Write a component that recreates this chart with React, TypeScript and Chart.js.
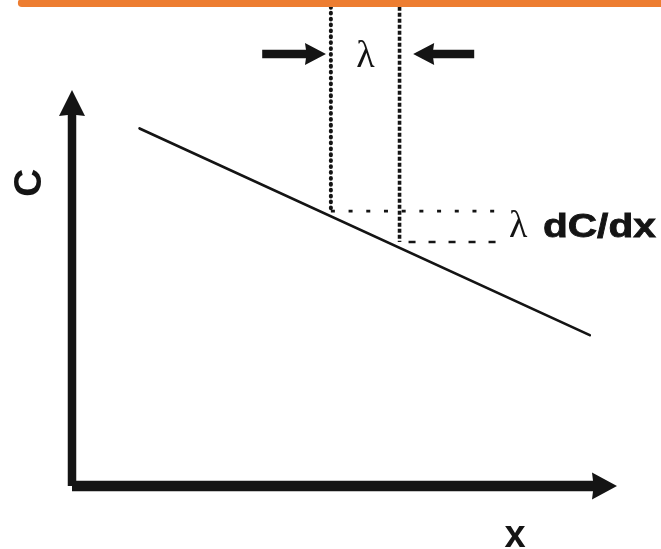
import React, { useEffect, useRef } from "react";
import { Chart, registerables } from "chart.js";

Chart.register(...registerables);

// ---- Data (arbitrary units: x along the abscissa, C along the ordinate) ----
const xRange = [0, 100];
const cRange = [0, 100];

// Concentration profile C(x): a straight falling line
const profileX = [12.4, 95.0];
const profileC = [90.3, 38.1];

// The two λ marker lines (x positions), their top and where they stop
const markerX = [47.5, 60.1];
const markerTopC = 121;
const markerBottomC = [69.4, 61.6];
const levelEndX = 78.0;

// Orange rule along the top
const orangeRuleX = [-9.2, 110];
const orangeRuleC = 122;

// Arrows pointing at the λ gap
const arrowC = 109.1;
const leftArrowX = [34.9, 46.6];
const rightArrowX = [73.8, 62.6];

// Labels
const xLabel = "x";
const cLabel = "C";
const lambdaLabel = "λ";
const gradientLabel = "dC/dx";

// label anchors (data units)
const xLabelAt = [81.3, -15.4];
const cLabelAt = [-5.6, 76.6];
const lambdaTopAt = [53.85, 105.9];
const lambdaSideAt = [80.2, 62.95];
const gradientAt = [86.4, 62.95];

const INK = "#141414";
const ORANGE = "#ED7D31";

function drawArrow(
  ctx: CanvasRenderingContext2D,
  x0: number, y0: number, x1: number, y1: number,
  shaft: number, headLen: number, headW: number
) {
  const dx = x1 - x0, dy = y1 - y0;
  const len = Math.hypot(dx, dy);
  const ux = dx / len, uy = dy / len;
  const nx = -uy, ny = ux;
  const bx = x1 - ux * headLen, by = y1 - uy * headLen;
  ctx.save();
  ctx.fillStyle = INK;
  ctx.beginPath();
  ctx.moveTo(x0 + nx * shaft / 2, y0 + ny * shaft / 2);
  ctx.lineTo(bx + nx * shaft / 2 + ux, by + ny * shaft / 2 + uy);
  ctx.lineTo(bx + nx * headW / 2, by + ny * headW / 2);
  ctx.lineTo(x1, y1);
  ctx.lineTo(bx - nx * headW / 2, by - ny * headW / 2);
  ctx.lineTo(bx - nx * shaft / 2 + ux, by - ny * shaft / 2 + uy);
  ctx.lineTo(x0 - nx * shaft / 2, y0 - ny * shaft / 2);
  ctx.closePath();
  ctx.fill();
  ctx.restore();
}

const diagramPlugin = {
  id: "diagramPlugin",
  afterDatasetsDraw(chart: any) {
    const ctx: CanvasRenderingContext2D = chart.ctx;
    const sx = chart.scales.x;
    const sy = chart.scales.y;
    const px = (v: number) => sx.getPixelForValue(v);
    const py = (v: number) => sy.getPixelForValue(v);

    // axes
    drawArrow(ctx, px(xRange[0]), py(cRange[0]), px(xRange[0]), py(cRange[1]), 8.5, 26, 26);
    drawArrow(ctx, px(xRange[0]), py(cRange[0]), px(xRange[1]), py(cRange[0]), 10.5, 25, 27);

    // λ arrows
    drawArrow(ctx, px(leftArrowX[0]), py(arrowC), px(leftArrowX[1]), py(arrowC), 8.5, 21, 22);
    drawArrow(ctx, px(rightArrowX[0]), py(arrowC), px(rightArrowX[1]), py(arrowC), 8.5, 21, 22);

    ctx.save();
    ctx.fillStyle = INK;

    // x label
    ctx.font = 'bold 38px "Liberation Sans", Arial, sans-serif';
    ctx.textAlign = "center";
    ctx.textBaseline = "alphabetic";
    ctx.fillText(xLabel, px(xLabelAt[0]), py(xLabelAt[1]));

    // C label (rotated)
    ctx.save();
    ctx.translate(px(cLabelAt[0]), py(cLabelAt[1]));
    ctx.rotate(-Math.PI / 2);
    ctx.font = 'bold 39px "Liberation Sans", Arial, sans-serif';
    ctx.textAlign = "center";
    ctx.textBaseline = "alphabetic";
    ctx.fillText(cLabel, 0, 0);
    ctx.restore();

    // λ between markers
    ctx.font = '38px "Liberation Serif", "DejaVu Serif", serif';
    ctx.textAlign = "center";
    ctx.textBaseline = "alphabetic";
    ctx.fillText(lambdaLabel, px(lambdaTopAt[0]), py(lambdaTopAt[1]));

    // λ dC/dx
    ctx.textAlign = "left";
    ctx.fillText(lambdaLabel, px(lambdaSideAt[0]), py(lambdaSideAt[1]));

    ctx.font = 'bold 34px "Liberation Sans", Arial, sans-serif';
    const w = ctx.measureText(gradientLabel).width;
    const stretch = 113 / w;
    ctx.save();
    ctx.translate(px(gradientAt[0]), py(gradientAt[1]));
    ctx.scale(stretch, 1);
    ctx.lineWidth = 0.8;
    ctx.strokeStyle = INK;
    ctx.fillText(gradientLabel, 0, 0);
    ctx.strokeText(gradientLabel, 0, 0);
    ctx.restore();

    ctx.restore();
  },
};

export default function App() {
  const ref = useRef<HTMLCanvasElement | null>(null);

  useEffect(() => {
    if (!ref.current) return;
    const line = (
      pts: { x: number; y: number }[],
      color: string,
      width: number,
      dash: number[] = [],
      cap: CanvasLineCap = "butt",
      dashOffset = 0
    ) => ({
      data: pts,
      showLine: true,
      borderColor: color,
      backgroundColor: color,
      borderWidth: width,
      borderDash: dash,
      borderDashOffset: dashOffset,
      borderCapStyle: cap,
      pointRadius: 0,
      pointHoverRadius: 0,
      tension: 0,
      fill: false,
      clip: false as any,
    });

    const chart = new Chart(ref.current, {
      type: "scatter",
      data: {
        datasets: [
          line(
            [
              { x: orangeRuleX[0], y: orangeRuleC },
              { x: orangeRuleX[1], y: orangeRuleC },
            ],
            ORANGE, 8, [], "round"
          ),
          line(
            [
              { x: profileX[0], y: profileC[0] },
              { x: profileX[1], y: profileC[1] },
            ],
            INK, 2.7, [], "round"
          ),
          line(
            [
              { x: markerX[0], y: markerTopC },
              { x: markerX[0], y: markerBottomC[0] },
            ],
            INK, 4, [0.8, 5.1], "round"
          ),
          line(
            [
              { x: markerX[1], y: markerTopC },
              { x: markerX[1], y: markerBottomC[1] },
            ],
            INK, 3.6, [3.8, 2.2], "butt"
          ),
          line(
            [
              { x: markerX[0], y: markerBottomC[0] },
              { x: levelEndX, y: markerBottomC[0] },
            ],
            INK, 2.8, [4, 13.7], "butt"
          ),
          line(
            [
              { x: markerX[1], y: markerBottomC[1] },
              { x: levelEndX, y: markerBottomC[1] },
            ],
            INK, 2.6, [7, 13], "butt", 11
          ),
        ],
      },
      options: {
        animation: false,
        responsive: false,
        maintainAspectRatio: false,
        events: [],
        layout: { padding: { left: 72, right: 44, top: 90, bottom: 63 } },
        scales: {
          x: { type: "linear", min: xRange[0], max: xRange[1], display: false },
          y: { type: "linear", min: cRange[0], max: cRange[1], display: false },
        },
        plugins: {
          legend: { display: false },
          tooltip: { enabled: false },
        },
      },
      plugins: [diagramPlugin],
    });
    return () => chart.destroy();
  }, []);

  return (
    <div
      style={{
        position: "absolute",
        left: 0,
        top: 0,
        width: 661,
        height: 549,
        background: "#ffffff",
      }}
    >
      <canvas ref={ref} width={661} height={549} style={{ display: "block" }} />
    </div>
  );
}
